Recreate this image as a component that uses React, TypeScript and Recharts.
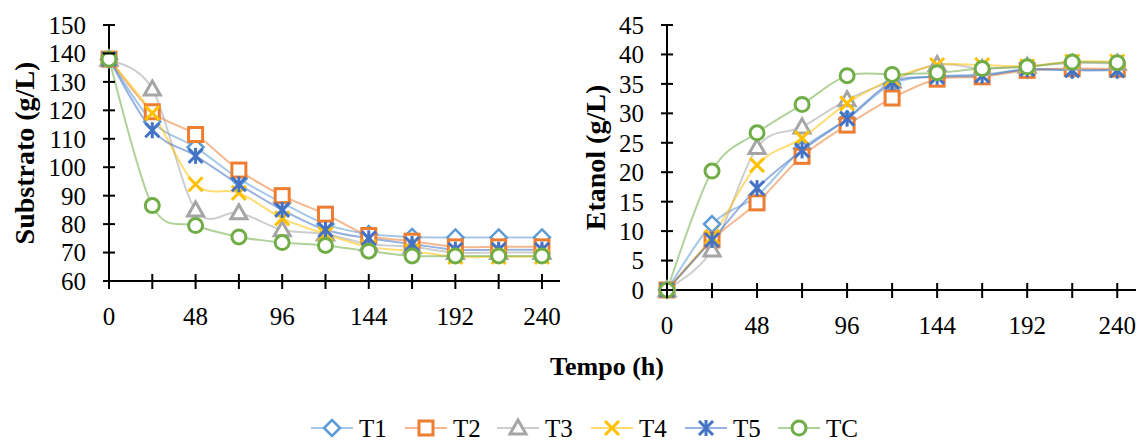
import { LineChart, Line, XAxis, YAxis } from "recharts"

const tempo = [0, 24, 48, 72, 96, 120, 144, 168, 192, 216, 240]
const xTicks = [0, 24, 48, 72, 96, 120, 144, 168, 192, 216, 240]
const subTicks = [60, 70, 80, 90, 100, 110, 120, 130, 140, 150]
const etaTicks = [0, 5, 10, 15, 20, 25, 30, 35, 40, 45]

const series = ["T1", "T2", "T3", "T4", "T5", "TC"]

// substrato (g/L)
const subT1 = [138, 116, 107, 96, 87.5, 80, 76.5, 75.5, 75.3, 75.3, 75.3]
const subT2 = [138, 119.5, 111.5, 99, 90, 83.5, 76, 74, 72, 72, 72]
const subT3 = [138, 127.5, 85, 84, 78, 76.5, 73, 72, 70, 70, 70]
const subT4 = [138, 119, 94, 91, 82, 76.5, 72, 70.5, 68.5, 68.5, 68.5]
const subT5 = [138, 113, 104, 94, 85, 78, 75, 73, 71, 71, 71]
const subTC = [138, 86.5, 79.5, 75.5, 73.5, 72.5, 70.5, 68.8, 68.8, 68.8, 68.8]

// etanol (g/L)
const etaT1 = [0, 11.2, 16, 24, 29, 35, 36.3, 36.6, 37.4, 37.4, 37.4]
const etaT2 = [0, 8.5, 14.8, 22.7, 28, 32.6, 35.8, 36.2, 37.3, 37.6, 37.5]
const etaT3 = [0, 6.8, 24.2, 27.7, 32.3, 35.5, 38.3, 37.6, 38, 38.5, 38.5]
const etaT4 = [0, 9, 21.2, 25.8, 31.7, 35.8, 38.2, 38.2, 38, 38.8, 38.8]
const etaT5 = [0, 8.5, 17.3, 23.7, 29.1, 35.3, 36.2, 36.4, 37.5, 37.3, 37.3]
const etaTC = [0, 20.2, 26.7, 31.5, 36.4, 36.6, 36.9, 37.6, 37.9, 38.7, 38.6]

const colors: Record<string, string> = {
  T1: "#5B9BD5",
  T2: "#ED7D31",
  T3: "#A5A5A5",
  T4: "#FFC000",
  T5: "#4472C4",
  TC: "#70AD47",
}
const shapes: Record<string, string> = {
  T1: "diamond",
  T2: "square",
  T3: "triangle",
  T4: "x",
  T5: "star",
  TC: "circle",
}

const buildRows = (cols: number[][]) =>
  tempo.map((t, i) => {
    const row: any = { t }
    series.forEach((s, j) => (row[s] = cols[j][i]))
    return row
  })

const subData = buildRows([subT1, subT2, subT3, subT4, subT5, subTC])
const etaData = buildRows([etaT1, etaT2, etaT3, etaT4, etaT5, etaTC])

const FONT = "'Liberation Serif', 'Times New Roman', serif"

// excel-like smoothed line
const excelSmooth = (context: any) => {
  let pts: number[][] = []
  return {
    areaStart() {},
    areaEnd() {},
    lineStart() {
      pts = []
    },
    point(x: number, y: number) {
      pts.push([+x, +y])
    },
    lineEnd() {
      if (!pts.length) return
      context.moveTo(pts[0][0], pts[0][1])
      for (let i = 0; i < pts.length - 1; i++) {
        const p0 = pts[Math.max(i - 1, 0)]
        const p1 = pts[i]
        const p2 = pts[i + 1]
        const p3 = pts[Math.min(i + 2, pts.length - 1)]
        context.bezierCurveTo(
          p1[0] + (p2[0] - p0[0]) / 6,
          p1[1] + (p2[1] - p0[1]) / 6,
          p2[0] - (p3[0] - p1[0]) / 6,
          p2[1] - (p3[1] - p1[1]) / 6,
          p2[0],
          p2[1]
        )
      }
    },
  }
}

function Marker({ cx, cy, shape, color }: any) {
  if (cx == null || cy == null) return null
  const sw = 3
  switch (shape) {
    case "diamond":
      return (
        <polygon
          points={`${cx},${cy - 8} ${cx + 8},${cy} ${cx},${cy + 8} ${cx - 8},${cy}`}
          fill="#fff"
          stroke={color}
          strokeWidth={2.5}
        />
      )
    case "square":
      return <rect x={cx - 7} y={cy - 7} width={14} height={14} fill="#fff" stroke={color} strokeWidth={sw} />
    case "triangle":
      return (
        <polygon
          points={`${cx},${cy - 8} ${cx + 8},${cy + 6} ${cx - 8},${cy + 6}`}
          fill="#fff"
          stroke={color}
          strokeWidth={sw}
        />
      )
    case "x":
      return (
        <g stroke={color} strokeWidth={sw}>
          <line x1={cx - 7} y1={cy - 7} x2={cx + 7} y2={cy + 7} />
          <line x1={cx - 7} y1={cy + 7} x2={cx + 7} y2={cy - 7} />
        </g>
      )
    case "star":
      return (
        <g stroke={color} strokeWidth={sw}>
          <line x1={cx - 7} y1={cy - 7} x2={cx + 7} y2={cy + 7} />
          <line x1={cx - 7} y1={cy + 7} x2={cx + 7} y2={cy - 7} />
          <line x1={cx} y1={cy - 8} x2={cx} y2={cy + 8} />
        </g>
      )
    default:
      return <circle cx={cx} cy={cy} r={7} fill="#fff" stroke={color} strokeWidth={sw} />
  }
}

function XTick({ x, y, payload }: any) {
  const v = payload.value
  return (
    <g>
      <line x1={x} x2={x} y1={y - 7} y2={y + 8} stroke="#000" strokeWidth={2} />
      {v % 48 === 0 && (
        <text x={x} y={y + 35} dy="0.355em" textAnchor="middle" fontSize={25} fill="#000" fontFamily={FONT}>
          {v}
        </text>
      )}
    </g>
  )
}

function YTick({ x, y, payload }: any) {
  return (
    <g>
      <line x1={x - 6} x2={x + 6} y1={y} y2={y} stroke="#000" strokeWidth={2} />
      <text x={x - 23} y={y} dy="0.355em" textAnchor="end" fontSize={25} fill="#000" fontFamily={FONT}>
        {payload.value}
      </text>
    </g>
  )
}

function Panel({ data, yDomain, yTicks, yLabel, width, margin, yWidth, xHeight, labelOffset }: any) {
  return (
    <LineChart width={width} height={340} data={data} margin={margin}>
      <XAxis
        dataKey="t"
        type="number"
        domain={[0, 250]}
        ticks={xTicks}
        interval={0}
        height={xHeight}
        tickSize={0}
        tickMargin={0}
        tickLine={false}
        axisLine={{ stroke: "#000", strokeWidth: 2 }}
        tick={<XTick />}
      />
      <YAxis
        type="number"
        domain={yDomain}
        ticks={yTicks}
        interval={0}
        width={yWidth}
        tickSize={0}
        tickMargin={0}
        tickLine={false}
        axisLine={{ stroke: "#000", strokeWidth: 2 }}
        tick={<YTick />}
        label={{
          value: yLabel,
          angle: -90,
          position: "insideLeft",
          offset: labelOffset,
          style: { textAnchor: "middle", fontSize: 28, fontWeight: "bold", fontFamily: FONT, fill: "#000" },
        }}
      />
      {series.map((s) => (
        <Line
          key={s}
          dataKey={s}
          type={excelSmooth as any}
          stroke={colors[s]}
          strokeOpacity={0.55}
          strokeWidth={2}
          isAnimationActive={false}
          dot={(p: any) => <Marker key={`${s}-${p.index}`} cx={p.cx} cy={p.cy} shape={shapes[s]} color={colors[s]} />}
        />
      ))}
    </LineChart>
  )
}

const legendStarts = [311, 405, 497, 591, 685, 778]

export default function App() {
  return (
    <div style={{ position: "absolute", left: 0, top: 0, width: 1138, height: 441, background: "#fff", fontFamily: FONT }}>
      <div style={{ position: "absolute", left: 0, top: 0 }}>
        <Panel
          data={subData}
          yDomain={[60, 150]}
          yTicks={subTicks}
          yLabel="Substrato (g/L)"
          width={570}
          margin={{ top: 25, right: 10, bottom: 9, left: 0 }}
          yWidth={109}
          xHeight={50}
          labelOffset={24}
        />
      </div>
      <div style={{ position: "absolute", left: 570, top: 0 }}>
        <Panel
          data={etaData}
          yDomain={[0, 45]}
          yTicks={etaTicks}
          yLabel="Etanol (g/L)"
          width={568}
          margin={{ top: 25, right: 2, bottom: 5, left: 0 }}
          yWidth={97}
          xHeight={45}
          labelOffset={25}
        />
      </div>
      <svg style={{ position: "absolute", left: 0, top: 340 }} width={1138} height={101}>
        <text x={607} y={26} dy="0.355em" textAnchor="middle" fontSize={26} fontWeight="bold" fontFamily={FONT} fill="#000">
          Tempo (h)
        </text>
        {series.map((s, i) => {
          const x0 = legendStarts[i]
          return (
            <g key={s}>
              <line x1={x0} x2={x0 + 42} y1={88} y2={88} stroke={colors[s]} strokeOpacity={0.55} strokeWidth={2} />
              <Marker cx={x0 + 21} cy={88} shape={shapes[s]} color={colors[s]} />
              <text x={x0 + 48} y={88} dy="0.355em" fontSize={25} fontFamily={FONT} fill="#000">
                {s}
              </text>
            </g>
          )
        })}
      </svg>
    </div>
  )
}
